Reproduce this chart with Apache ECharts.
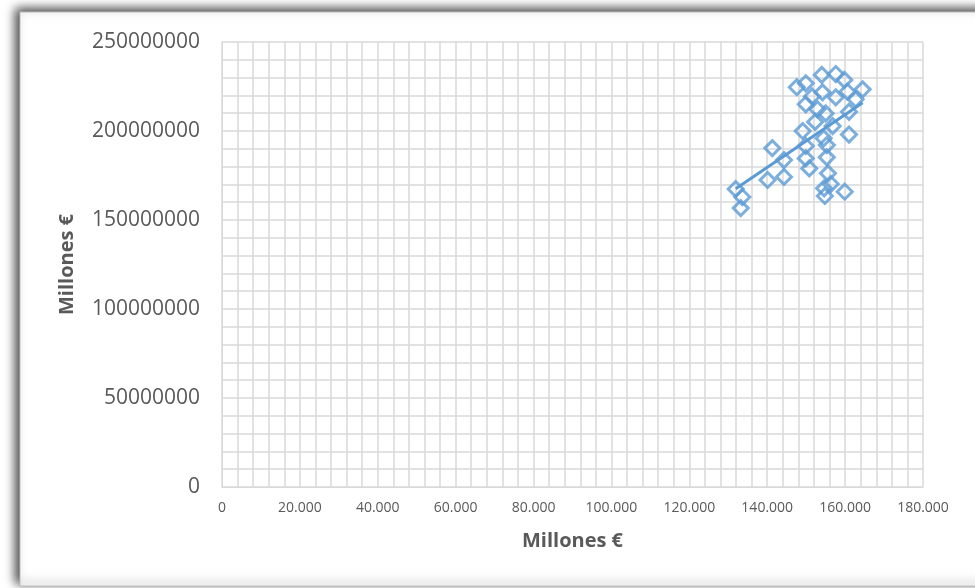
<!DOCTYPE html>
<html>
<head>
<meta charset="utf-8">
<style>
  html, body { margin: 0; padding: 0; background: #ffffff; }
  #chart { width: 975px; height: 588px; }
</style>
<script src="https://cdn.jsdelivr.net/npm/echarts@6/dist/echarts.min.js"></script>
</head>
<body>
<div id="chart"></div>
<script>
// Horizontal values (Millones €)
const xValues = [
  131900, 133600, 133200, 141300, 144300, 140100, 144300, 149100, 149900, 149900,
  150800, 152300, 152900, 155000, 156800, 154500, 155300, 155300, 155600, 156300,
  154600, 154800, 159900, 161000, 161000, 147600, 149900, 154000, 157600, 159800,
  164500, 151500, 154200, 157600, 160600, 162700, 149900
];
// Vertical values (Millones €)
const yValues = [
  167400000, 162900000, 156700000, 190400000, 183700000, 172500000, 174200000, 200000000, 191600000, 184600000,
  179000000, 205100000, 212200000, 209900000, 202800000, 195900000, 192100000, 185200000, 176200000, 170200000,
  167800000, 163500000, 165900000, 198000000, 210800000, 224600000, 226800000, 231500000, 232000000, 228700000,
  223400000, 219400000, 221700000, 218900000, 222100000, 217800000, 215000000
];
// Axis tick labels
const xTickLabels = ['0', '20.000', '40.000', '60.000', '80.000', '100.000', '120.000', '140.000', '160.000', '180.000'];
const yTickLabels = ['0', '50000000', '100000000', '150000000', '200000000', '250000000'];

const points = xValues.map((x, i) => [x, yValues[i]]);

// Least-squares linear trend across the span of the data
const n = xValues.length;
const mx = xValues.reduce((a, b) => a + b, 0) / n;
const my = yValues.reduce((a, b) => a + b, 0) / n;
let sxy = 0, sxx = 0;
for (let i = 0; i < n; i++) {
  sxy += (xValues[i] - mx) * (yValues[i] - my);
  sxx += (xValues[i] - mx) * (xValues[i] - mx);
}
const slope = sxy / sxx;
const intercept = my - slope * mx;
const xMin = Math.min(...xValues), xMax = Math.max(...xValues);
const trend = [[xMin, intercept + slope * xMin], [xMax, intercept + slope * xMax]];

const BLUE = '#5B9BD5';
const GRID = '#d9d9d9';
const TEXT = '#595959';
const FONT = '"Open Sans", "Noto Sans", sans-serif';

const chart = echarts.init(document.getElementById('chart'), null, { renderer: 'canvas' });
chart.setOption({
  animation: false,
  backgroundColor: '#ffffff',
  graphic: [
    {
      // chart-area panel with its drop shadow on the upper-left
      type: 'rect',
      z: -10,
      silent: true,
      shape: { x: 20, y: 12, width: 980, height: 574 },
      style: {
        fill: '#ffffff',
        stroke: '#bdbdbd',
        lineWidth: 1,
        shadowColor: 'rgba(0,0,0,0.75)',
        shadowBlur: 10,
        shadowOffsetX: -4,
        shadowOffsetY: -3
      }
    }
  ],
  grid: { left: 222, right: 52, top: 42, bottom: 101, containLabel: false },
  xAxis: {
    type: 'value',
    min: 0,
    max: 180000,
    interval: 20000,
    name: 'Millones €',
    nameLocation: 'middle',
    nameGap: 44,
    nameTextStyle: { fontFamily: FONT, fontSize: 20, fontWeight: 'bold', color: TEXT },
    axisLine: { show: true, lineStyle: { color: GRID, width: 1 } },
    axisTick: { show: false },
    axisLabel: {
      fontFamily: FONT, fontSize: 14, color: TEXT, margin: 14,
      formatter: (v) => xTickLabels[Math.round(v / 20000)]
    },
    splitLine: { show: true, lineStyle: { color: GRID, width: 1.5 } },
    minorTick: { show: false, splitNumber: 5 },
    minorSplitLine: { show: true, lineStyle: { color: GRID, width: 1.5 } }
  },
  yAxis: {
    type: 'value',
    min: 0,
    max: 250000000,
    interval: 50000000,
    name: 'Millones €',
    nameLocation: 'middle',
    nameGap: 145,
    nameRotate: 90,
    nameTextStyle: { fontFamily: FONT, fontSize: 20, fontWeight: 'bold', color: TEXT },
    axisLine: { show: true, lineStyle: { color: GRID, width: 1 } },
    axisTick: { show: false },
    axisLabel: {
      fontFamily: FONT, fontSize: 21, color: TEXT, margin: 22,
      formatter: (v) => yTickLabels[Math.round(v / 50000000)]
    },
    splitLine: { show: true, lineStyle: { color: GRID, width: 1.5 } },
    minorTick: { show: false, splitNumber: 5 },
    minorSplitLine: { show: true, lineStyle: { color: GRID, width: 1.5 } }
  },
  series: [
    {
      type: 'line',
      data: trend,
      showSymbol: false,
      symbol: 'none',
      lineStyle: { color: BLUE, width: 3 },
      z: 3
    },
    {
      type: 'scatter',
      data: points,
      symbol: 'diamond',
      symbolSize: 15,
      itemStyle: { color: 'rgba(255,255,255,0)', borderColor: BLUE, borderWidth: 3 },
      z: 4
    }
  ]
});
</script>
</body>
</html>
